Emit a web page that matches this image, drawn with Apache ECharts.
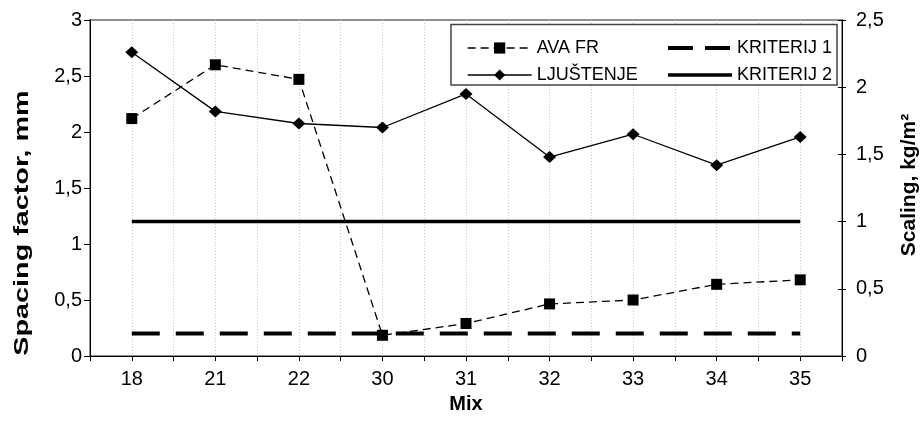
<!DOCTYPE html>
<html>
<head>
<meta charset="utf-8">
<script src="https://cdn.jsdelivr.net/npm/echarts@6/dist/echarts.min.js"></script>
<style>
html, body { margin: 0; padding: 0; background: #fff; }
#chart { width: 921px; height: 421px; }
</style>
</head>
<body>
<div id="chart"></div>
<script>
// data
var mixes = ['18', '21', '22', '30', '31', '32', '33', '34', '35'];
var avaFr = [2.12, 2.60, 2.47, 0.185, 0.29, 0.465, 0.50, 0.64, 0.68];      // left axis, mm
var ljustenje = [2.26, 1.82, 1.73, 1.70, 1.95, 1.48, 1.65, 1.42, 1.63];   // right axis, kg/m2
var kriterij1 = [0.2, 0.2, 0.2, 0.2, 0.2, 0.2, 0.2, 0.2, 0.2];           // left axis
var kriterij2 = [1, 1, 1, 1, 1, 1, 1, 1, 1];                             // right axis

var FONT = '"Liberation Sans", Arial, sans-serif';
var NARROW = '"Liberation Sans Narrow", "Arial Narrow", "Liberation Sans", sans-serif';

function pairs(values){
	return values.map(function(v, i){ return [i, v]; });
}
function commaFmt(v){
	return String(v).replace('.', ',');
}
function mixLabel(v){
	var i = Math.round(v);
	if(Math.abs(v - i) > 1e-6) return '';
	return mixes[i] || '';
}

var chart = echarts.init(document.getElementById('chart'));

var legendText = { fontFamily: FONT, fontSize: 18, color: '#000' };

var option = {
	animation: false,
	grid: {
		left: 90, right: 79, top: 20, bottom: 65,
		show: true, borderColor: '#6b6b6b', borderWidth: 1.5, backgroundColor: '#fff'
	},
	legend: [{
		data: [
			{ name: 'AVA FR', lineStyle: { width: 1.3 } },
			{ name: 'LJUŠTENJE', lineStyle: { width: 1.3 } }
		],
		orient: 'vertical', left: 462, top: 34,
		itemWidth: 64, itemHeight: 14, itemGap: 9,
		selectedMode: false, z: 5,
		textStyle: legendText
	}, {
		// no marker on the criterion lines, so hide the legend dot
		data: [
			{ name: 'KRITERIJ 1', lineStyle: { width: 4, type: [25, 12] }, itemStyle: { opacity: 0 } },
			{ name: 'KRITERIJ 2', lineStyle: { width: 3.5 }, itemStyle: { opacity: 0 } }
		],
		orient: 'vertical', left: 661, top: 34,
		itemWidth: 64, itemHeight: 14, itemGap: 9,
		selectedMode: false, z: 5,
		textStyle: legendText
	}],
	graphic: [{
		type: 'rect', z: 3,
		shape: { x: 451, y: 24.5, width: 386, height: 60.5 },
		style: { fill: '#fff', stroke: '#444', lineWidth: 1.5 }
	}, {
		type: 'text', z: 5,
		x: 22, y: 223, rotation: Math.PI / 2, scaleX: 1.37,
		style: {
			text: 'Spacing factor, mm', font: 'bold 21px ' + FONT, fill: '#000',
			textAlign: 'center', textVerticalAlign: 'middle'
		}
	}, {
		type: 'text', z: 5,
		x: 909, y: 185, rotation: Math.PI / 2,
		style: {
			text: 'Scaling, kg/m²', font: 'bold 21px ' + FONT, fill: '#000',
			textAlign: 'center', textVerticalAlign: 'middle'
		}
	}],
	xAxis: {
		type: 'value', min: -0.5, max: 8.5, interval: 0.5,
		axisLine: { lineStyle: { color: '#000', width: 1 } },
		axisTick: { show: true, length: 5, lineStyle: { color: '#000' } },
		axisLabel: {
			formatter: mixLabel, fontFamily: NARROW, fontSize: 20, color: '#000', margin: 13
		},
		splitLine: { show: true, lineStyle: { color: '#c8c8c8', type: [1, 2], width: 1 } },
		name: 'Mix', nameLocation: 'middle', nameGap: 38,
		nameTextStyle: { fontFamily: NARROW, fontWeight: 'bold', fontSize: 20, color: '#000' }
	},
	yAxis: [{
		type: 'value', min: 0, max: 3, interval: 0.5, position: 'left',
		axisLine: { show: true, onZero: false, lineStyle: { color: '#000' } },
		axisTick: { show: true, length: 6, lineStyle: { color: '#000' } },
		axisLabel: { formatter: commaFmt, fontFamily: FONT, fontSize: 20, color: '#000', margin: 8 },
		splitLine: { show: false }
	}, {
		type: 'value', min: 0, max: 2.5, interval: 0.5, position: 'right',
		axisLine: { show: true, onZero: false, lineStyle: { color: '#000' } },
		axisTick: { show: true, length: 4, lineStyle: { color: '#000' } },
		axisLabel: { formatter: commaFmt, fontFamily: FONT, fontSize: 20, color: '#000', margin: 14 },
		splitLine: { show: false }
	}, {
		// inner half of the crossing ticks on the right axis
		type: 'value', min: 0, max: 2.5, interval: 0.5, position: 'right',
		axisLine: { show: false, onZero: false },
		axisTick: { show: true, inside: true, length: 4, lineStyle: { color: '#000' } },
		axisLabel: { show: false },
		splitLine: { show: false }
	}],
	series: [{
		name: 'AVA FR', type: 'line', yAxisIndex: 0, data: pairs(avaFr),
		symbol: 'rect', symbolSize: 11,
		itemStyle: { color: '#000' },
		lineStyle: { color: '#000', width: 1.3, type: [8, 5] },
		z: 4
	}, {
		name: 'LJUŠTENJE', type: 'line', yAxisIndex: 1, data: pairs(ljustenje),
		symbol: 'diamond', symbolSize: [13, 12],
		itemStyle: { color: '#000' },
		lineStyle: { color: '#000', width: 1.3 },
		z: 4
	}, {
		name: 'KRITERIJ 1', type: 'line', yAxisIndex: 0, data: pairs(kriterij1),
		symbol: 'none', silent: true,
		itemStyle: { color: '#000' },
		lineStyle: { color: '#000', width: 4, type: [28, 16] },
		z: 3
	}, {
		name: 'KRITERIJ 2', type: 'line', yAxisIndex: 1, data: pairs(kriterij2),
		symbol: 'none', silent: true,
		itemStyle: { color: '#000' },
		lineStyle: { color: '#000', width: 3.5 },
		z: 3
	}]
};

chart.setOption(option);
</script>
</body>
</html>
